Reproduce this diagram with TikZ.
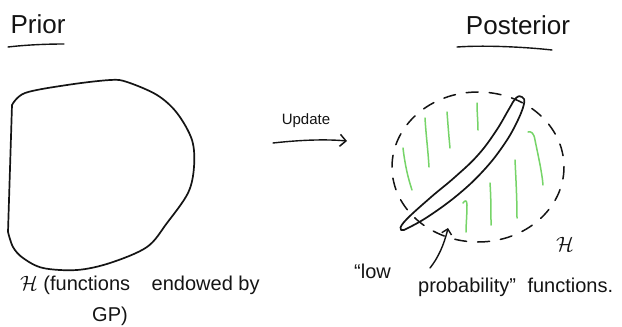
\documentclass[tikz,border=0pt]{standalone}
\usepackage{fontspec}
\setmainfont{Liberation Sans}
\usetikzlibrary{arrows.meta}
\definecolor{hgreen}{RGB}{118,212,104}
\definecolor{inkc}{RGB}{20,20,20}
\tikzset{
  ink/.style={draw=inkc, line width=1.7pt, line cap=round, line join=round},
  thinink/.style={draw=inkc, line width=1.4pt, line cap=round, line join=round},
  hatch/.style={draw=hgreen, line width=1.5pt, line cap=round},
  title/.style={font=\fontsize{26}{29}\selectfont, text=inkc, inner sep=0pt},
  label/.style={font=\fontsize{20}{23}\selectfont, text=inkc, inner sep=0pt},
  chev/.style={-{Straight Barb[length=6pt,width=12pt,line width=1.5pt]}}
}
\begin{document}
\begin{tikzpicture}[x=1pt,y=-1pt]
\useasboundingbox (0,0) rectangle (622,327);
\fill[white] (0,0) rectangle (622,327);

% headings with hand-drawn underlines
\node[title] (prior) at (38,24) {Prior};
\coordinate (pu1) at (8,47);
\coordinate (pu2) at (64,44);
\draw[thinink] (pu1) .. controls (25,45) and (45,44) .. (pu2);

\node[title] (post) at (518,25) {Posterior};
\coordinate (qu1) at (457,47);
\coordinate (qu2) at (552,50);
\draw[thinink] (qu1) .. controls (485,45) and (525,47) .. (qu2);

% prior: the space of functions
\draw[ink] plot[smooth, tension=0.55] coordinates {
  (12,105) (25,93) (67,85) (110,80) (127,82) (157,95) (177,113) (192,140)
  (194,167) (188,193) (167,223) (147,247) (110,263) (77,270) (43,268)
  (23,258) (13,247) (8,232)} -- cycle;
\node[label, anchor=base west] (hprior) at (20,290)
  {$\mathcal{H}$ (functions\hspace{0.8em} endowed by};
\node[label, anchor=base] (gp) at (110,321) {GP)};

% update arrow
\node[font=\fontsize{15}{18}\selectfont, text=inkc, inner sep=0pt] (upd) at (306,121) {Update};
\coordinate (u1) at (273,143);
\coordinate (u2) at (347,141);
\draw[thinink, chev] (u1) .. controls (300,140) and (325,139) .. (u2);

% posterior: dashed outline of the space
\draw[ink, line width=1.5pt, dash pattern=on 12pt off 11pt] (478,167) ellipse [x radius=86, y radius=75];

% green hatching outside the high-probability region
\draw[hatch] (403,148) .. controls (405,165) and (408,178) .. (412,190);
\draw[hatch] (425,118) .. controls (426,135) and (428,150) .. (429,167);
\draw[hatch] (447,112) .. controls (448,125) and (449,138) .. (450,148);
\draw[hatch] (477,103) .. controls (477,112) and (478,122) .. (478,130);
\draw[hatch] (463,203) .. controls (465,200) and (467,200) .. (467,205) .. controls (467,215) and (466,225) .. (466,232);
\draw[hatch] (490,183) .. controls (491,197) and (491,212) .. (491,225);
\draw[hatch] (515,160) .. controls (516,180) and (517,200) .. (517,218);
\draw[hatch] (528,132) .. controls (531,131) and (534,133) .. (535,140) .. controls (538,155) and (542,172) .. (543,185);

% high-probability region: thin elongated band
\draw[ink] plot[smooth cycle, tension=0.7] coordinates {
  (401,230) (405,221) (430,198) (455,177) (478,155) (496,131) (509,109)
  (516,98) (522,97) (524,104) (516,124) (503,146) (484,170) (460,193)
  (432,214) (410,227)};

\node[font=\fontsize{21}{24}\selectfont, text=inkc, inner sep=0pt] (hpost) at (565,244) {$\mathcal{H}$};

% pointer to the low-probability functions
\coordinate (a1) at (430,268);
\coordinate (a2) at (448,228);
\draw[thinink, -{Straight Barb[length=5pt,width=10pt,line width=1.4pt]}] (a1) .. controls (438,258) and (444,245) .. (a2);
\node[label, anchor=base west] (low) at (354,278) {``low};
\node[label, anchor=base west] (prob) at (418,292) {probability''\hspace{0.3em} functions.};
\end{tikzpicture}
\end{document}
